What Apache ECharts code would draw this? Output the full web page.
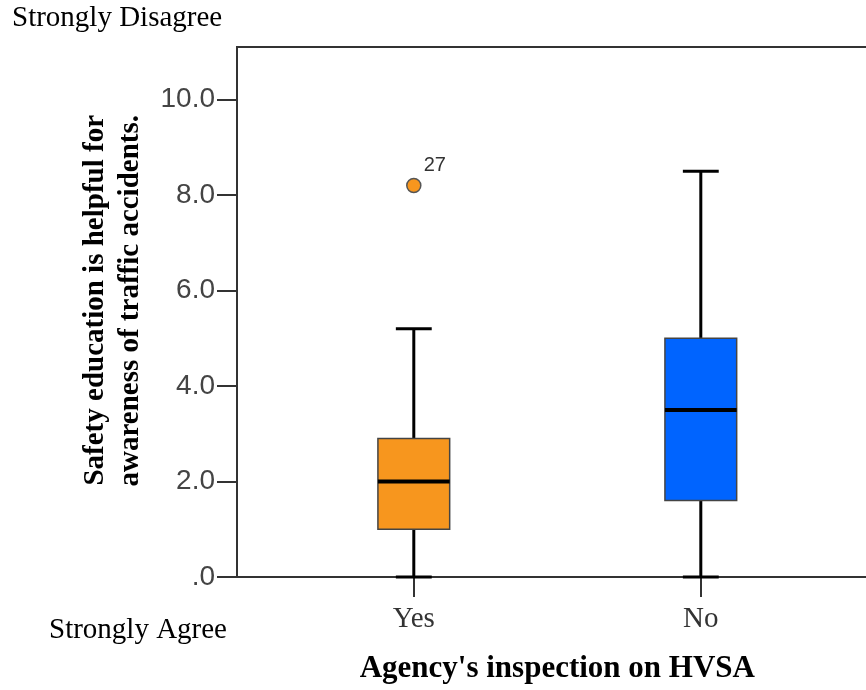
<!DOCTYPE html>
<html>
<head>
<meta charset="utf-8">
<title>Safety education by agency inspection</title>
<script src="https://cdn.jsdelivr.net/npm/echarts@6/dist/echarts.min.js"></script>
<style>
  html, body { margin: 0; padding: 0; background: #fff; }
  #chart { width: 866px; height: 690px; }
</style>
</head>
<body>
<div id="chart"></div>
<script>
// Groups on the horizontal axis
const categories = ['Yes', 'No'];

// Five-number summaries per group
const whiskerLow  = [0.0, 0.0];
const quartile1   = [1.0, 1.6];
const medians     = [2.0, 3.5];
const quartile3   = [2.9, 5.0];
const whiskerHigh = [5.2, 8.5];

// Outlying cases (group index, value, case number)
const outlierGroup = [0];
const outlierValue = [8.2];
const outlierCase  = ['27'];

// Vertical axis tick values
const yTickValues = [0, 2, 4, 6, 8, 10];

const boxColors = ['#F7961E', '#0064FF'];

const boxData = categories.map((c, i) => [i + 1, whiskerLow[i], quartile1[i], medians[i], quartile3[i], whiskerHigh[i]]);
const outlierData = outlierGroup.map((g, i) => ({ value: [g + 1, outlierValue[i]], caseId: outlierCase[i] }));

const axisColor = '#333';

const chart = echarts.init(document.getElementById('chart'), null, { renderer: 'canvas' });

chart.setOption({
  backgroundColor: '#fff',
  animation: false,
  grid: {
    left: 237, right: -11.6, top: 47, bottom: 113,
    outerBoundsMode: 'none', containLabel: false,
    show: true, borderColor: axisColor, borderWidth: 2, backgroundColor: 'transparent'
  },
  xAxis: {
    type: 'value',
    min: 0.384, max: 2.616,
    splitLine: { show: false },
    axisLine: { show: true, onZero: false, lineStyle: { color: axisColor, width: 2 } },
    axisTick: { show: true, inside: false, length: 20, customValues: [1, 2], lineStyle: { color: axisColor, width: 2 } },
    axisLabel: {
      show: true, margin: 28, customValues: [1, 2],
      formatter: v => categories[Math.round(v) - 1] || '',
      color: '#333', fontFamily: 'Liberation Serif', fontSize: 29
    },
    name: "Agency's inspection on HVSA",
    nameLocation: 'middle',
    nameGap: 76,
    nameTextStyle: { color: '#000', fontFamily: 'Liberation Serif', fontWeight: 'bold', fontSize: 31 }
  },
  yAxis: {
    type: 'value',
    min: 0, max: 11.1, interval: 2,
    splitLine: { show: false },
    axisLine: { show: true, lineStyle: { color: axisColor, width: 2 } },
    axisTick: { show: true, length: 20, customValues: yTickValues, lineStyle: { color: axisColor, width: 2 } },
    axisLabel: {
      show: true, margin: 22, customValues: yTickValues,
      formatter: v => (v === 0 ? '.0' : v.toFixed(1)),
      color: '#444', fontFamily: 'Liberation Sans', fontSize: 28
    }
  },
  graphic: [
    {
      type: 'text', left: 12, top: 4,
      style: { text: 'Strongly Disagree', fill: '#000', font: '29px "Liberation Serif"' }
    },
    {
      type: 'text', left: 49, top: 616,
      style: { text: 'Strongly Agree', fill: '#000', font: '29px "Liberation Serif"' }
    },
    {
      type: 'text', x: 113, y: 115, rotation: Math.PI / 2,
      style: {
        text: 'Safety education is helpful for\nawareness of traffic accidents.',
        fill: '#000', font: 'bold 29px "Liberation Serif"',
        align: 'right', verticalAlign: 'middle', lineHeight: 35
      }
    }
  ],
  series: [
    {
      type: 'custom',
      data: boxData,
      encode: { x: 0, y: [1, 2, 3, 4, 5] },
      renderItem: function (params, api) {
        const x = api.value(0);
        const lo = api.coord([x, api.value(1)]);
        const q1 = api.coord([x, api.value(2)]);
        const md = api.coord([x, api.value(3)]);
        const q3 = api.coord([x, api.value(4)]);
        const hi = api.coord([x, api.value(5)]);
        const cx = lo[0];
        const boxW = api.size([0.25, 0])[0];
        const capW = boxW / 2;
        const ink = { stroke: '#000', lineWidth: 3 };
        return {
          type: 'group',
          children: [
            { type: 'line', shape: { x1: cx, y1: lo[1], x2: cx, y2: q1[1] }, style: ink },
            { type: 'line', shape: { x1: cx, y1: q3[1], x2: cx, y2: hi[1] }, style: ink },
            { type: 'line', shape: { x1: cx - capW / 2, y1: lo[1], x2: cx + capW / 2, y2: lo[1] }, style: ink },
            { type: 'line', shape: { x1: cx - capW / 2, y1: hi[1], x2: cx + capW / 2, y2: hi[1] }, style: ink },
            {
              type: 'rect',
              shape: { x: cx - boxW / 2, y: q3[1], width: boxW, height: q1[1] - q3[1] },
              style: { fill: boxColors[params.dataIndex], stroke: '#444', lineWidth: 1.5 }
            },
            { type: 'line', shape: { x1: cx - boxW / 2, y1: md[1], x2: cx + boxW / 2, y2: md[1] }, style: { stroke: '#000', lineWidth: 4 } }
          ]
        };
      },
      z: 3
    },
    {
      type: 'scatter',
      data: outlierData,
      symbol: 'circle',
      symbolSize: 14,
      itemStyle: { color: boxColors[0], borderColor: '#555', borderWidth: 1.5, opacity: 1 },
      label: {
        show: true, position: 'top', distance: 2, offset: [21, 0],
        formatter: p => p.data.caseId,
        color: '#333', fontFamily: 'Liberation Sans', fontSize: 20
      },
      z: 4
    }
  ]
});
</script>
</body>
</html>
